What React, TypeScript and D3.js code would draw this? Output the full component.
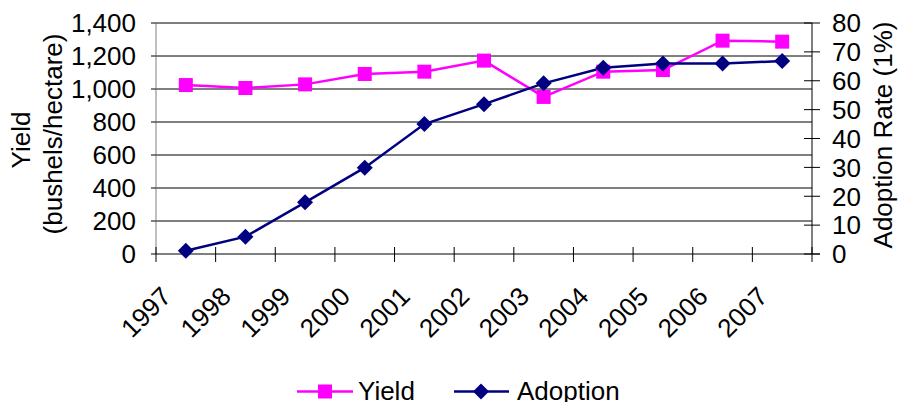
import React from "react";
import * as d3 from "d3";

const years = ["1997","1998","1999","2000","2001","2002","2003","2004","2005","2006","2007"];
const yieldValues = [1024, 1006, 1028, 1091, 1105, 1172, 952, 1105, 1115, 1293, 1287];
const adoptionValues = [1.1, 6.0, 17.9, 29.9, 45.0, 51.9, 59.1, 64.5, 66.0, 66.0, 66.8];
const leftTicks = [0, 200, 400, 600, 800, 1000, 1200, 1400];
const rightTicks = [0, 10, 20, 30, 40, 50, 60, 70, 80];

const W = 901, H = 402;
const L = 156, R = 812, T = 23, B = 254;
const FONT = "'Liberation Sans', Arial, sans-serif";
const MAGENTA = "#FF00FF";
const NAVY = "#000080";

export default function App() {
  const x = d3.scaleBand<string>().domain(years).range([L, R]).padding(0);
  const yL = d3.scaleLinear().domain([0, 1400]).range([B, T]);
  const yR = d3.scaleLinear().domain([0, 80]).range([B, T]);
  const cx = (d: string) => (x(d) as number) + x.bandwidth() / 2;

  const yieldLine = d3.line<number>().x((_, i) => cx(years[i])).y((v) => yL(v))(yieldValues) || "";
  const adoptLine = d3.line<number>().x((_, i) => cx(years[i])).y((v) => yR(v))(adoptionValues) || "";

  const boundaries = years.map((d) => x(d) as number).concat([R]);

  const sq = 7;
  const dm = 8;
  const diamond = (px: number, py: number) => `M${px},${py - dm}L${px + dm},${py}L${px},${py + dm}L${px - dm},${py}Z`;

  return (
    <svg width={W} height={H} style={{ position: "absolute", left: 0, top: 0, background: "#fff" }} fontFamily={FONT}>
      <rect x={0} y={0} width={W} height={H} fill="#fff" />
      {/* gridlines */}
      {leftTicks.filter((t) => t > 0).map((t) => (
        <line key={"g" + t} x1={L} x2={R} y1={yL(t)} y2={yL(t)} stroke="#000" strokeWidth={1} />
      ))}
      {/* left axis */}
      <line x1={L} x2={L} y1={T} y2={B} stroke="#808080" strokeWidth={1} />
      {leftTicks.map((t) => (
        <g key={"l" + t}>
          <line x1={L - 5} x2={L} y1={yL(t)} y2={yL(t)} stroke="#000" />
          <text x={136} y={yL(t)} dy="0.36em" textAnchor="end" fontSize={26} fill="#000">
            {d3.format(",")(t)}
          </text>
        </g>
      ))}
      {/* right axis */}
      <line x1={R} x2={R} y1={T} y2={B} stroke="#000" strokeWidth={1} />
      {rightTicks.map((t) => (
        <g key={"r" + t}>
          <line x1={R - 8} x2={R + 8} y1={yR(t)} y2={yR(t)} stroke="#000" />
          <text x={832} y={yR(t)} dy="0.36em" textAnchor="start" fontSize={26} fill="#000">
            {t}
          </text>
        </g>
      ))}
      {/* x axis */}
      <line x1={L} x2={R + 8} y1={B} y2={B} stroke="#000" strokeWidth={1} />
      {boundaries.map((b, i) => (
        <line key={"xt" + i} x1={b} x2={b} y1={B - 7} y2={B + 8} stroke="#000" />
      ))}
      {years.map((d) => (
        <text key={"xl" + d} transform={`translate(${cx(d) - 13},${298}) rotate(-45)`} textAnchor="end" fontSize={26} fill="#000">
          {d}
        </text>
      ))}
      {/* titles */}
      <text transform={`translate(30,140) rotate(-90)`} textAnchor="middle" fontSize={26} fill="#000">Yield</text>
      <text transform={`translate(62,134) rotate(-90)`} textAnchor="middle" fontSize={26} fill="#000">(bushels/hectare)</text>
      <text transform={`translate(892,135) rotate(-90)`} textAnchor="middle" fontSize={26} fill="#000">Adoption Rate (1%)</text>

      {/* series */}
      <path d={yieldLine} fill="none" stroke={MAGENTA} strokeWidth={2.5} />
      <path d={adoptLine} fill="none" stroke={NAVY} strokeWidth={2.5} />
      {yieldValues.map((v, i) => (
        <rect key={"ym" + i} x={cx(years[i]) - sq} y={yL(v) - sq} width={sq * 2} height={sq * 2} fill={MAGENTA} />
      ))}
      {adoptionValues.map((v, i) => (
        <path key={"am" + i} d={diamond(cx(years[i]), yR(v))} fill={NAVY} />
      ))}

      {/* legend */}
      <line x1={297} x2={353} y1={391.5} y2={391.5} stroke={MAGENTA} strokeWidth={2.5} />
      <rect x={325 - sq} y={391.5 - sq} width={sq * 2} height={sq * 2} fill={MAGENTA} />
      <text x={358} y={400} fontSize={26} fill="#000">Yield</text>
      <line x1={454} x2={509} y1={391.5} y2={391.5} stroke={NAVY} strokeWidth={2.5} />
      <path d={diamond(481, 391.5)} fill={NAVY} />
      <text x={517} y={400} fontSize={26} fill="#000">Adoption</text>
    </svg>
  );
}
